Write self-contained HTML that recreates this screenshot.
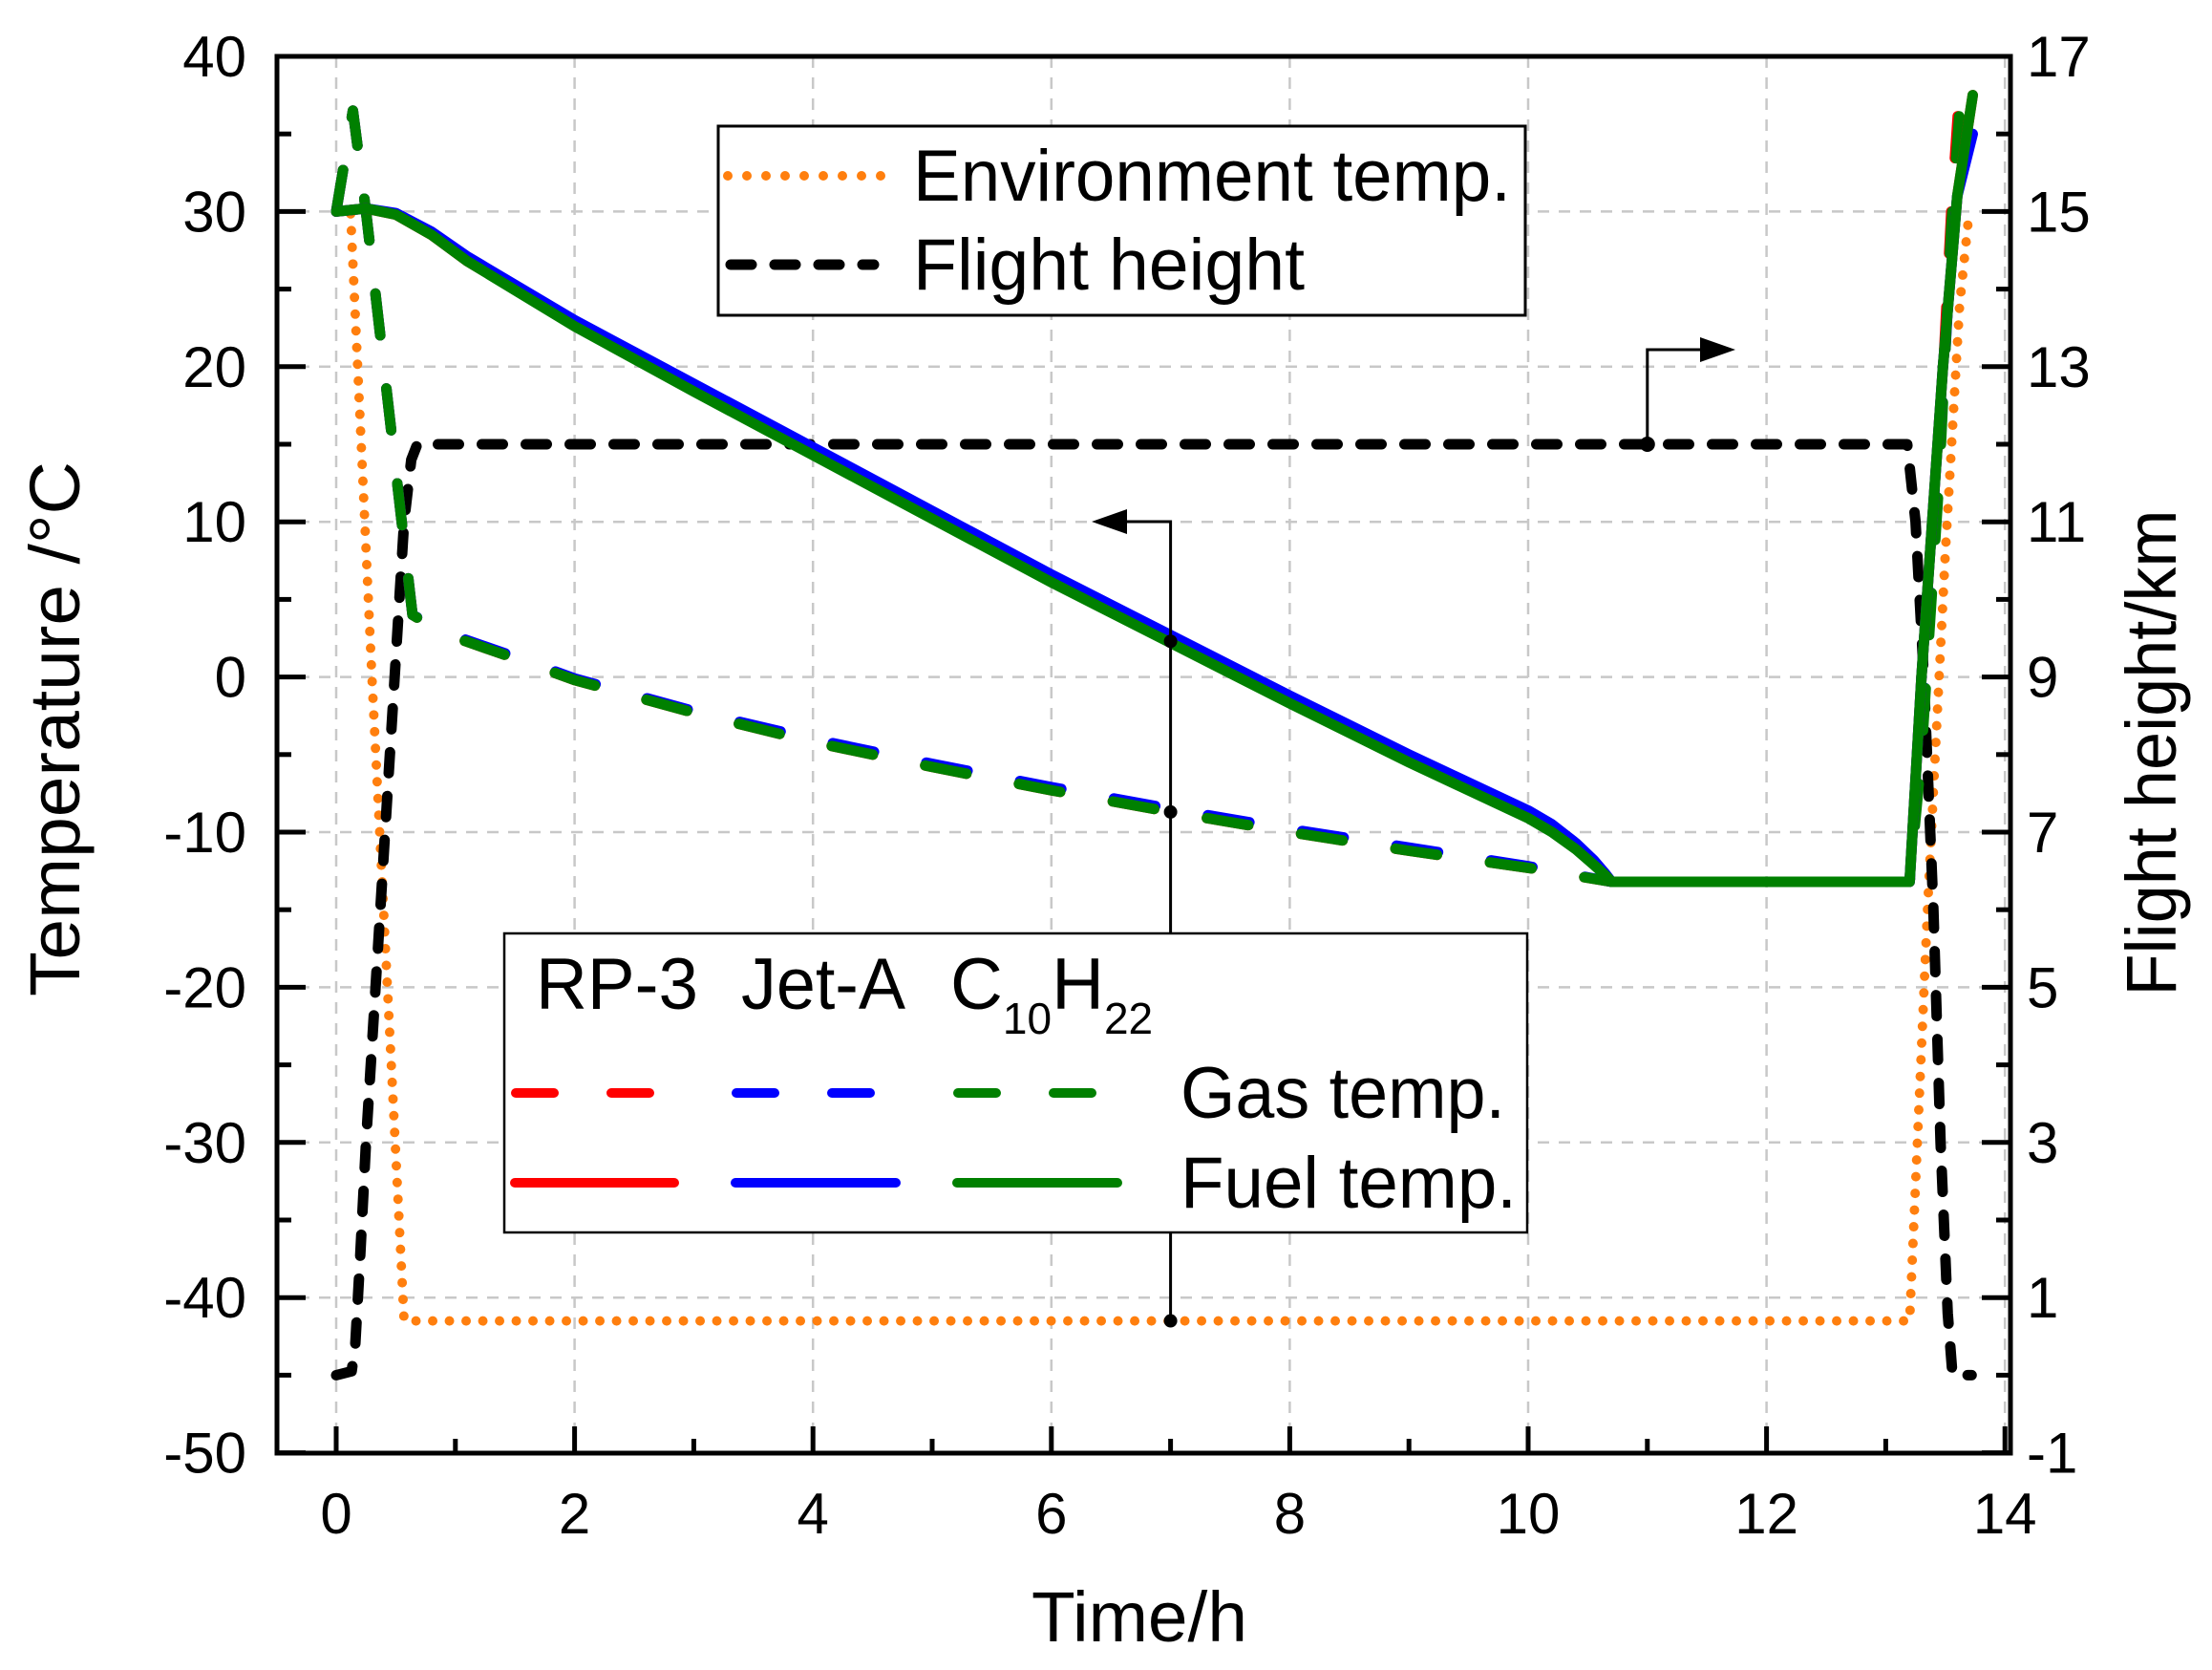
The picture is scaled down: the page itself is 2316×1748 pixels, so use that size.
<!DOCTYPE html>
<html><head><meta charset="utf-8"><style>
html,body{margin:0;padding:0;background:#fff;}
svg{display:block;font-family:"Liberation Sans",Arial,sans-serif;}
</style></head><body>
<svg id="chart" width="2316" height="1748" viewBox="0 0 2316 1748" xmlns="http://www.w3.org/2000/svg">
<rect x="0" y="0" width="2316" height="1748" fill="#fff"/>
<g id="grid"></g>
<g id="series"></g>
<g id="axes"></g>
<g id="annot"></g>
<g id="legend1">
  <rect x="752" y="132" width="845" height="198" fill="#fff" stroke="#000" stroke-width="3"/>
  <line x1="762" y1="184" x2="925" y2="184" stroke="#ff7f0e" stroke-width="10" stroke-linecap="round" stroke-dasharray="0 20"/>
  <text x="956" y="210" font-size="76" textLength="626" lengthAdjust="spacingAndGlyphs">Environment temp.</text>
  <line x1="765" y1="277" x2="915" y2="277" stroke="#000" stroke-width="11" stroke-linecap="round" stroke-dasharray="22 24"/>
  <text x="956" y="303" font-size="76" textLength="410" lengthAdjust="spacingAndGlyphs">Flight height</text>
</g>
<g id="legend2">
  <rect x="528" y="977" width="1071" height="313" fill="#fff" stroke="#000" stroke-width="2.5"/>
  <text x="561" y="1056" font-size="76" textLength="170" lengthAdjust="spacingAndGlyphs">RP-3</text>
  <text x="776" y="1056" font-size="76" textLength="172" lengthAdjust="spacingAndGlyphs">Jet-A</text>
  <text x="995" y="1056" font-size="76">C<tspan font-size="46" dy="26">10</tspan><tspan dy="-26">H</tspan><tspan font-size="46" dy="26">22</tspan></text>
  <g stroke-width="10" stroke-linecap="round" stroke-dasharray="40 60">
    <line x1="540" y1="1144" x2="690" y2="1144" stroke="#ff0000"/>
    <line x1="771" y1="1144" x2="921" y2="1144" stroke="#0000ff"/>
    <line x1="1003" y1="1144" x2="1153" y2="1144" stroke="#008000"/>
  </g>
  <g stroke-width="10" stroke-linecap="round">
    <line x1="539" y1="1238" x2="706" y2="1238" stroke="#ff0000"/>
    <line x1="770" y1="1238" x2="938" y2="1238" stroke="#0000ff"/>
    <line x1="1002" y1="1238" x2="1170" y2="1238" stroke="#008000"/>
  </g>
  <text x="1236" y="1170" font-size="76" textLength="340" lengthAdjust="spacingAndGlyphs">Gas temp.</text>
  <text x="1236" y="1264" font-size="76" textLength="352" lengthAdjust="spacingAndGlyphs">Fuel temp.</text>
</g>
<text x="1193" y="1718" font-size="74" text-anchor="middle" textLength="226" lengthAdjust="spacingAndGlyphs">Time/h</text>
<text transform="translate(83,763) rotate(-90)" font-size="74" text-anchor="middle" textLength="560" lengthAdjust="spacingAndGlyphs">Temperature /°C</text>
<text transform="translate(2278,788) rotate(-90)" font-size="74" text-anchor="middle" textLength="509" lengthAdjust="spacingAndGlyphs">Flight height/km</text>
</svg>
<script>
// ---- data ----
const xTicks = [0,2,4,6,8,10,12,14];
const yTicksLeft = [40,30,20,10,0,-10,-20,-30,-40,-50];
const yTicksRight = [17,15,13,11,9,7,5,3,1,-1];

const envTime = [0,0.12,0.3,0.57,13.2,13.35,13.5,13.62,13.7];
const envTemp = [30,30,0,-41.5,-41.5,-15,8,24,30];

const heightTime = [0,0.13,0.16,0.2,0.25,0.33,0.41,0.49,0.57,0.63,0.68,13.18,13.25,13.32,13.4,13.46,13.52,13.56,13.72];
const heightKm = [0,0.05,0.4,1.5,3,5,7,9,11,11.8,12,12,11,9,6,3,0.8,0,0];

const gasTime = [0,0.14,0.25,0.4,0.55,0.64,0.9,1.5,2,3,4,5,6,7,8,9,10,10.7,13.2,13.3,13.45,13.55,13.62];
const gasRP3 = [30,36.5,30,20,10,4,2.8,1.2,-0.2,-2.3,-4.2,-5.8,-7.3,-8.7,-10,-11.2,-12.3,-13.2,-13.2,-3,15,30,38];
const gasJetA = [30,36.5,30,20,10,4,2.9,1.3,-0.1,-2.2,-4.0,-5.6,-7.1,-8.5,-9.8,-11.0,-12.2,-13.2,-13.2,-4,14,28,36];
const gasC10 = [30,36.5,30,20,10,4,2.8,1.2,-0.2,-2.3,-4.2,-5.8,-7.3,-8.7,-10,-11.2,-12.3,-13.2,-13.2,-5,13,29,36.5];

const fuelTime = [0,0.25,0.5,0.8,1.1,2,3,4,5,6,7,8,9,10,10.2,10.4,10.55,10.65,10.7,13.2,13.3,13.48,13.6,13.73];
const fuelRP3 = [30,30.2,29.8,28.5,26.8,22.7,18.5,14.4,10.3,6.2,2.3,-1.6,-5.4,-9.0,-9.9,-11.0,-12.0,-12.8,-13.2,-13.2,0,20,31,37.5];
const fuelJetA = [30,30.2,29.9,28.7,27.1,23.0,18.9,14.8,10.7,6.6,2.7,-1.2,-5.0,-8.6,-9.5,-10.7,-11.8,-12.7,-13.2,-13.2,0,20,31,35];
const fuelC10 = [30,30.2,29.8,28.5,26.8,22.6,18.4,14.3,10.2,6.1,2.2,-1.7,-5.5,-9.1,-10.0,-11.1,-12.1,-12.8,-13.2,-13.2,0,20,31,37.5];

// ---- axes ----
const L=290, R=2105, T=59, B=1521;
function xs(t){ return 352 + t*124.8; }
function ys(v){ return 59 + (40 - v)*16.24; }
function yh(h){ return ys(30 + (h-15)*5); }

const NS="http://www.w3.org/2000/svg";
function mk(tag, attrs, parent){
  const e=document.createElementNS(NS,tag);
  for(const k in attrs) e.setAttribute(k,attrs[k]);
  parent.appendChild(e); return e;
}
const grid=document.getElementById('grid');
const axes=document.getElementById('axes');
const series=document.getElementById('series');
const annot=document.getElementById('annot');

xTicks.forEach(t=>{
  const g=mk('line',{x1:xs(t),x2:xs(t),y1:T,y2:B,stroke:'#c8c8c8','stroke-width':2.5,'stroke-dasharray':'12 10'},grid);
  
  
});
yTicksLeft.forEach(v=>{
  const g=mk('line',{x1:L,x2:R,y1:ys(v),y2:ys(v),stroke:'#c8c8c8','stroke-width':2.5,'stroke-dasharray':'12 10'},grid);
  
  
});

function poly(ts, vs, fn, attrs, name){
  let d='';
  for(let i=0;i<ts.length;i++){ d+=(i?'L':'M')+xs(ts[i]).toFixed(1)+','+fn(vs[i]).toFixed(1); }
  const p=mk('path',Object.assign({d:d,fill:'none','stroke-linejoin':'round'},attrs),series);
  
  
  return p;
}
poly(envTime,envTemp,ys,{stroke:'#ff7f0e','stroke-width':10,'stroke-linecap':'round','stroke-dasharray':'0 17.5'},'environment-temp-line');
poly(heightTime,heightKm,yh,{stroke:'#000','stroke-width':11,'stroke-linecap':'round','stroke-dasharray':'22 24'},'flight-height-line');
poly(gasTime,gasRP3,ys,{stroke:'#ff0000','stroke-width':11,'stroke-linecap':'round','stroke-dasharray':'44 56'},'gas-temp-rp3');
poly(gasTime,gasJetA,ys,{stroke:'#0000ff','stroke-width':11,'stroke-linecap':'round','stroke-dasharray':'44 56'},'gas-temp-jeta');
poly(gasTime,gasC10,ys,{stroke:'#008000','stroke-width':11,'stroke-linecap':'round','stroke-dasharray':'44 56'},'gas-temp-c10h22');
poly(fuelTime,fuelRP3,ys,{stroke:'#ff0000','stroke-width':11,'stroke-linecap':'round'},'fuel-temp-rp3');
poly(fuelTime,fuelJetA,ys,{stroke:'#0000ff','stroke-width':11,'stroke-linecap':'round'},'fuel-temp-jeta');
poly(fuelTime,fuelC10,ys,{stroke:'#008000','stroke-width':11,'stroke-linecap':'round'},'fuel-temp-c10h22');

const fr=mk('rect',{x:L,y:T,width:R-L,height:B-T,fill:'none',stroke:'#000','stroke-width':5},axes);



xTicks.forEach((t,i)=>{
  const tk=mk('line',{x1:xs(t),x2:xs(t),y1:B,y2:B-28,stroke:'#000','stroke-width':5},axes);
  
  
  if(i<xTicks.length-1){
    const m=mk('line',{x1:xs(t+1),x2:xs(t+1),y1:B,y2:B-15,stroke:'#000','stroke-width':5},axes);
    
    
  }
  const lb=mk('text',{x:xs(t),y:1605,'font-size':60,'text-anchor':'middle'},axes);
  lb.textContent=t;
  
  
});
yTicksLeft.forEach((v,i)=>{
  const tk=mk('line',{x1:L,x2:L+30,y1:ys(v),y2:ys(v),stroke:'#000','stroke-width':5},axes);
  
  
  if(i<yTicksLeft.length-1){
    const m=mk('line',{x1:L,x2:L+15,y1:ys(v-5),y2:ys(v-5),stroke:'#000','stroke-width':5},axes);
    
    
  }
  const lb=mk('text',{x:258,y:ys(v)+21,'font-size':60,'text-anchor':'end'},axes);
  lb.textContent=v;
  
  
});
yTicksRight.forEach((h,i)=>{
  const tk=mk('line',{x1:R,x2:R-30,y1:yh(h),y2:yh(h),stroke:'#000','stroke-width':5},axes);
  
  
  if(i<yTicksRight.length-1){
    const m=mk('line',{x1:R,x2:R-15,y1:yh(h-1),y2:yh(h-1),stroke:'#000','stroke-width':5},axes);
    
    
  }
  const lb=mk('text',{x:2122,y:yh(h)+21,'font-size':60,'text-anchor':'start'},axes);
  lb.textContent=h;
  
  
});

const annLeftT = 7, annRightT = 11;
function al(a,name){
  const e=mk('path',Object.assign({fill:'none',stroke:'#000','stroke-width':3},a),annot);
  
  
  return e;
}
const ax=xs(annLeftT);
al({d:`M${ax},${ys(-41.5)}L${ax},546L1170,546`},'left-axis-pointer');
const ah1=mk('path',{d:`M1143,546L1180,533L1180,559Z`,fill:'#000'},annot);


[2.3,-8.7,-41.5].forEach(v=>{
  const c=mk('circle',{cx:ax,cy:ys(v),r:7,fill:'#000'},annot);
  
  
});
const bx=xs(annRightT);
al({d:`M${bx},${yh(12)}L${bx},366L1790,366`},'right-axis-pointer');
const ah2=mk('path',{d:`M1817,366L1780,353L1780,379Z`,fill:'#000'},annot);


const c2=mk('circle',{cx:bx,cy:yh(12),r:8,fill:'#000'},annot);


</script>
</body></html>
